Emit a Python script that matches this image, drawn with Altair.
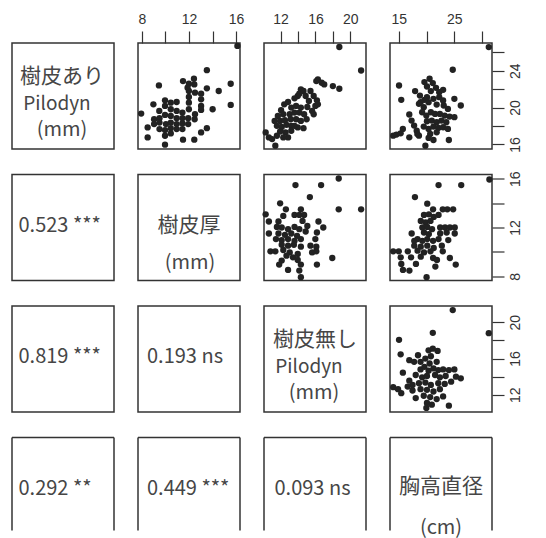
import altair as alt
import pandas as pd

# ---------------- data ----------------
var_lines = [
    ["樹皮あり", "Pilodyn", "(mm)"],
    ["樹皮厚", "(mm)"],
    ["樹皮無し", "Pilodyn", "(mm)"],
    ["胸高直径", "(cm)"],
]
var_domains = [[15.5, 27.0], [7.66, 16.34], [10.1, 21.8], [13.4, 31.8]]
tick_values = [[16, 18, 20, 22, 24, 26], [8, 10, 12, 14, 16], [12, 14, 16, 18, 20], [15, 20, 25, 30]]
tick_labels = [[16, 20, 24], [8, 12, 16], [12, 16, 20], [15, 25]]

corr_rows = [1, 2, 3, 2, 3, 3]
corr_cols = [0, 0, 0, 1, 1, 2]
corr_values = ["0.523", "0.819", "0.292", "0.193", "0.449", "0.093"]
corr_stars = ["***", "***", "**", "ns", "***", "ns"]

# upper panels: (x = column variable, y = row variable)
pts_r1c2 = [(16.12, 26.68), (13.52, 24.05), (9.44, 22.40), (15.55, 22.58), (11.49, 22.87), (12.42, 23.12),
            (11.99, 22.58), (11.99, 21.79), (12.51, 21.61), (13.03, 21.5), (13.52, 22.08), (14.53, 21.79),
            (11.99, 21.14), (13.03, 20.89), (13.03, 20.17), (13.03, 19.74), (14.01, 19.81), (15.55, 20.28),
            (11.99, 20.53), (11.99, 19.81), (7.93, 19.34), (8.97, 20.35), (9.96, 20.78), (10.45, 20.53),
            (10.95, 20.6), (9.96, 20.17), (9.47, 19.63), (10.45, 19.81), (10.95, 19.63), (11.44, 19.45),
            (9.03, 18.73), (9.49, 18.84), (9.96, 19.2), (10.45, 19.09), (10.95, 18.84), (11.44, 18.84),
            (11.93, 18.84), (12.48, 18.73), (9.03, 18.2), (10.04, 18.2), (10.45, 18.37), (10.95, 18.2),
            (11.44, 18.27), (11.93, 18.2), (9.49, 17.66), (9.96, 17.55), (10.45, 17.76), (11.44, 17.66),
            (8.48, 17.84), (8.48, 16.76), (9.96, 16.94), (9.96, 15.97), (11.49, 16.51), (12.45, 16.51),
            (13.03, 17.3), (13.52, 17.76), (12.51, 19.27), (10.95, 17.66), (10.45, 17.19), (9.49, 18.37),
            (11.88, 22.15), (12.45, 22.51)]
pts_r1c3 = [(18.74, 26.57), (21.24, 24.02), (16.28, 23.05), (16.1, 22.87), (16.72, 22.69), (17.01, 22.51),
            (18.0, 22.33), (18.74, 22.04), (14.33, 21.97), (14.15, 21.5), (14.63, 21.79), (15.43, 21.79),
            (13.97, 21.25), (13.6, 21.0), (16.17, 20.78), (15.99, 20.17), (16.28, 20.35), (15.62, 19.63),
            (15.25, 20.71), (15.07, 20.06), (12.42, 20.35), (12.86, 20.6), (12.06, 19.7), (13.23, 19.99),
            (13.78, 20.17), (14.33, 19.99), (11.69, 19.09), (12.31, 19.27), (13.05, 19.27), (13.6, 19.45),
            (14.15, 19.45), (14.7, 19.27), (15.8, 19.27), (11.32, 18.55), (11.95, 18.55), (12.5, 18.63),
            (13.16, 18.73), (13.78, 18.73), (14.33, 18.55), (14.99, 18.73), (11.58, 18.01), (12.13, 17.9),
            (12.68, 18.12), (13.23, 18.01), (13.97, 17.84), (14.63, 17.76), (11.95, 17.4), (12.57, 17.3),
            (13.23, 17.48), (12.86, 16.76), (10.29, 17.3), (10.66, 16.76), (11.03, 16.58), (11.58, 16.94),
            (11.4, 15.86), (12.31, 16.76), (15.8, 21.25), (14.88, 21.25), (13.6, 18.01)]
pts_r1c4 = [(31.22, 26.56), (24.72, 24.1), (15.03, 22.39), (15.43, 20.83), (17.93, 21.78), (19.61, 22.76),
            (20.54, 23.12), (21.12, 22.65), (20.07, 22.28), (20.77, 21.78), (21.7, 22.14), (22.28, 21.67),
            (22.98, 21.92), (18.8, 21.3), (19.61, 20.83), (18.62, 20.4), (19.49, 20.03), (20.36, 20.58),
            (21.24, 20.94), (21.82, 20.32), (25.01, 20.94), (26.17, 20.22), (23.09, 20.22), (16.88, 19.24),
            (17.29, 18.58), (17.75, 18.04), (18.22, 17.49), (18.62, 16.95), (19.2, 19.49), (19.96, 19.13),
            (20.77, 19.49), (21.53, 19.31), (22.4, 19.31), (23.27, 19.13), (24.14, 19.02), (25.01, 18.95),
            (20.07, 18.51), (20.94, 18.58), (21.82, 18.4), (22.69, 18.58), (23.56, 18.4), (19.49, 17.93),
            (20.36, 17.68), (21.24, 17.93), (22.11, 17.78), (22.98, 17.86), (23.85, 17.68), (20.65, 17.13),
            (21.82, 17.31), (20.36, 16.7), (21.24, 16.48), (13.98, 16.95), (14.56, 17.06), (15.32, 17.2),
            (15.72, 17.68), (16.88, 16.77), (18.33, 17.13), (19.78, 15.86), (24.02, 16.48), (18.91, 20.58),
            (20.07, 21.12), (22.28, 21.12), (22.98, 20.76), (23.85, 19.85)]
pts_r2c3 = [(18.67, 16.01), (13.71, 15.47), (16.65, 15.47), (15.36, 14.49), (11.95, 13.98), (18.67, 13.49),
            (21.24, 13.49), (10.29, 13.08), (12.61, 13.49), (14.33, 13.49), (13.6, 13.03), (14.15, 13.03),
            (14.7, 13.03), (12.31, 12.95), (10.66, 12.49), (11.76, 12.49), (14.52, 12.54), (15.07, 12.13),
            (16.35, 12.49), (16.9, 12.0), (11.58, 12.05), (12.13, 12.0), (12.86, 11.86), (13.6, 12.05),
            (14.15, 11.86), (14.88, 11.67), (10.66, 11.51), (11.76, 11.51), (12.5, 11.4), (13.23, 11.51),
            (13.89, 11.32), (16.17, 11.59), (11.47, 11.05), (12.13, 10.97), (12.86, 11.05), (13.6, 10.91),
            (14.33, 11.05), (15.99, 11.05), (12.13, 10.59), (12.86, 10.51), (13.53, 10.59), (14.33, 10.43),
            (15.43, 10.51), (16.1, 10.43), (10.84, 10.05), (11.4, 10.05), (12.31, 10.16), (13.05, 9.96),
            (13.97, 9.83), (15.62, 9.96), (16.1, 10.05), (13.42, 9.56), (13.97, 9.34), (12.13, 9.29),
            (14.33, 8.96), (16.17, 8.96), (17.93, 9.5), (11.84, 8.96), (12.86, 8.53), (14.15, 8.47),
            (14.33, 7.93), (12.68, 9.69)]
pts_r2c4 = [(31.33, 15.93), (22.16, 15.47), (26.25, 15.47), (17.9, 14.49), (20.12, 13.95), (21.17, 13.49),
            (22.92, 13.49), (23.74, 13.49), (24.79, 13.49), (19.53, 13.03), (20.41, 13.08), (21.29, 12.87),
            (22.16, 13.03), (18.95, 12.54), (19.83, 12.41), (20.7, 12.54), (19.24, 12.0), (20.12, 12.05),
            (20.99, 11.86), (22.45, 12.0), (23.33, 12.0), (24.2, 12.0), (25.08, 12.0), (17.31, 11.51),
            (19.53, 11.59), (20.41, 11.46), (22.45, 11.51), (23.62, 11.59), (25.08, 11.51), (18.37, 11.05),
            (19.24, 10.91), (20.12, 11.05), (21.17, 10.91), (22.16, 11.05), (23.91, 10.97), (17.78, 10.51),
            (18.95, 10.43), (20.12, 10.51), (21.29, 10.32), (22.75, 10.51), (13.98, 10.05), (14.98, 10.05),
            (16.61, 10.05), (18.37, 10.1), (19.53, 9.96), (20.7, 10.05), (22.92, 10.05), (15.33, 9.56),
            (17.2, 9.56), (18.95, 9.61), (21.17, 9.5), (21.87, 9.34), (24.2, 9.5), (15.44, 9.02),
            (18.08, 9.02), (21.58, 8.8), (25.26, 8.96), (15.74, 8.53), (16.9, 8.47), (20.0, 7.93),
            (17.78, 10.91)]
pts_r3c4 = [(24.72, 21.35), (31.22, 18.8), (21.12, 18.84), (15.03, 18.07), (15.32, 16.47), (15.72, 14.44),
            (16.88, 15.82), (17.75, 15.64), (18.45, 16.36), (19.78, 16.0), (20.36, 16.91), (21.12, 17.09),
            (21.99, 16.84), (20.77, 16.25), (18.91, 14.8), (19.61, 15.09), (20.36, 14.65), (21.24, 14.91),
            (22.11, 14.73), (22.98, 14.8), (24.02, 14.73), (25.01, 14.8), (18.04, 14.18), (19.2, 13.93),
            (20.07, 14.07), (21.53, 14.18), (22.4, 13.93), (23.44, 14.07), (25.3, 14.0), (26.17, 13.82),
            (16.88, 13.56), (17.46, 13.09), (18.62, 13.27), (19.78, 13.35), (20.77, 13.09), (22.11, 13.27),
            (23.27, 13.2), (24.43, 13.45), (13.98, 12.84), (14.85, 12.62), (15.43, 12.18), (18.91, 12.62),
            (20.07, 12.55), (21.24, 12.36), (22.4, 12.62), (18.04, 11.64), (19.49, 11.89), (20.65, 11.75),
            (22.98, 11.82), (21.82, 11.53), (20.07, 11.09), (20.94, 10.91), (19.96, 10.55), (24.02, 10.8),
            (17.46, 12.47), (16.59, 12.91), (18.91, 15.64), (20.54, 15.45), (21.82, 15.64)]

upper = {(0, 1): pts_r1c2, (0, 2): pts_r1c3, (0, 3): pts_r1c4,
         (1, 2): pts_r2c3, (1, 3): pts_r2c4, (2, 3): pts_r3c4}

# ---------------- layout / style ----------------
PW, PH, PH_LAST = 102, 106, 93
BORDER = "#333333"
TXT = "#464646"
CJK = "Noto Sans CJK JP"
TICK_FONT = "Liberation Sans"

# diagonal text placement per line: (x centre, baseline y, font size)
diag_pos = [
    [(50, 40, 21), (45, 67, 19), (50, 93, 20)],
    [(51, 57, 21), (52, 94, 20)],
    [(51, 40, 21), (45, 67, 19), (50, 93, 20)],
    [(51, 55, 21), (51, 96, 20)],
]
corr_x = [6.5, 9, 10.5]
corr_y = 57

dummy = pd.DataFrame({"d": [0]})


def label_expr(vals):
    arr = ",".join(str(v) for v in vals)
    return f"indexof([{arr}], datum.value) >= 0 ? datum.label : ''"


def axis_top(i):
    return alt.Axis(orient="top", values=tick_values[i], labelExpr=label_expr(tick_labels[i]),
                    domain=False, grid=False, tickSize=12, tickColor=BORDER, tickWidth=1.2,
                    labelFont=TICK_FONT, labelFontSize=14, labelColor=BORDER, labelPadding=5,
                    labelFlush=False, labelOverlap=False, title=None)


def axis_right(i):
    return alt.Axis(orient="right", values=tick_values[i], labelExpr=label_expr(tick_labels[i]),
                    domain=False, grid=False, tickSize=12, tickColor=BORDER, tickWidth=1.2,
                    labelFont=TICK_FONT, labelFontSize=14, labelColor=BORDER, labelPadding=4,
                    labelAngle=270, labelAlign="center", labelBaseline="top",
                    labelFlush=False, labelOverlap=False, title=None)


def border_rules(h):
    base = alt.Chart(dummy).mark_rule(color=BORDER, strokeWidth=1.5)
    return [
        base.encode(x=alt.value(0), y=alt.value(0), y2=alt.value(h)),
        base.encode(x=alt.value(PW), y=alt.value(0), y2=alt.value(h)),
        base.encode(x=alt.value(0), x2=alt.value(PW), y=alt.value(0)),
    ]


def finish(layers, r):
    if r == 3:
        ch = alt.layer(*layers, *border_rules(PH_LAST)).properties(
            width=PW, height=PH_LAST, view=alt.ViewBackground(stroke="transparent"))
    else:
        ch = alt.layer(*layers).properties(width=PW, height=PH)
    return ch


def diag_panel(i):
    layers = []
    for line, (cx, by, fs) in zip(var_lines[i], diag_pos[i]):
        layers.append(
            alt.Chart(pd.DataFrame({"t": [line]})).mark_text(
                font=CJK, fontSize=fs, color=TXT, align="center", baseline="alphabetic"
            ).encode(text="t:N", x=alt.value(cx), y=alt.value(by))
        )
    return finish(layers, i)


def corr_panel(r, c):
    k = [j for j in range(len(corr_rows)) if corr_rows[j] == r and corr_cols[j] == c][0]
    txt = f"{corr_values[k]} {corr_stars[k]}"
    layer = alt.Chart(pd.DataFrame({"t": [txt]})).mark_text(
        font=CJK, fontSize=20, color=TXT, align="left", baseline="alphabetic"
    ).encode(text="t:N", x=alt.value(corr_x[c]), y=alt.value(corr_y))
    return finish([layer], r)


def scatter_panel(r, c):
    df = pd.DataFrame(upper[(r, c)], columns=["x", "y"])
    xax = axis_top(c) if r == 0 else None
    yax = axis_right(r) if c == 3 else None
    pts = alt.Chart(df).mark_circle(size=40, color="#222222", opacity=1).encode(
        x=alt.X("x:Q", scale=alt.Scale(domain=var_domains[c], nice=False, zero=False), axis=xax),
        y=alt.Y("y:Q", scale=alt.Scale(domain=var_domains[r], nice=False, zero=False), axis=yax),
    )
    return finish([pts], r)


cells = []
for r in range(4):
    for c in range(4):
        if r == c:
            cells.append(diag_panel(r))
        elif r > c:
            cells.append(corr_panel(r, c))
        else:
            cells.append(scatter_panel(r, c))

chart = alt.concat(
    *cells, columns=4, spacing={"row": 25.5, "column": 24}, bounds="flush", align="each"
).properties(
    padding={"left": 2, "top": 3, "right": 5, "bottom": 0},
    background="white",
).configure_view(stroke=BORDER, strokeWidth=1.5)

chart.save("out.html", embed_options={"renderer": "svg", "actions": False})
